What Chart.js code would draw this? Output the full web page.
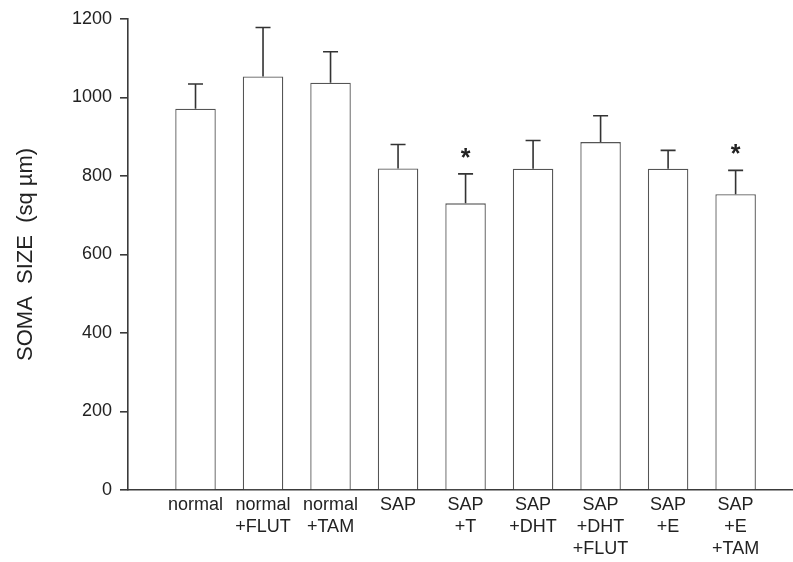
<!DOCTYPE html>
<html><head><meta charset="utf-8">
<script src="https://cdn.jsdelivr.net/npm/chart.js@4/dist/chart.umd.min.js"></script>
<style>html,body{margin:0;padding:0;background:#fff}</style>
</head><body>
<canvas id="c" width="793" height="562"></canvas>
<script>
const categories = [["normal"],["normal","+FLUT"],["normal","+TAM"],["SAP"],["SAP","+T"],["SAP","+DHT"],["SAP","+DHT","+FLUT"],["SAP","+E"],["SAP","+E","+TAM"]];
const means = [971, 1053, 1037, 819, 730, 818, 886, 818, 753];
const errorTops = [1034, 1178, 1116, 880, 805, 890, 953, 865, 814];
const significant = [false, false, false, false, true, false, false, false, true];
const yTicks = [0, 200, 400, 600, 800, 1000, 1200];
const yTitle = "SOMA  SIZE  (sq \u00b5m)";

const FONT = "'Liberation Sans', Arial, Helvetica, sans-serif";
const AXIS = '#3a3a3a';

const errorPlugin = {
  id: 'errorBars',
  afterDatasetsDraw(chart) {
    const ctx = chart.ctx, xs = chart.scales.x, ys = chart.scales.y;
    ctx.save();
    ctx.strokeStyle = '#333';
    ctx.lineWidth = 1.6;
    ctx.fillStyle = '#222';
    ctx.font = 'bold 25px ' + FONT;
    ctx.textAlign = 'center';
    ctx.textBaseline = 'alphabetic';
    means.forEach((m, i) => {
      const x = xs.getPixelForValue(i);
      const y0 = ys.getPixelForValue(m);
      const y1 = ys.getPixelForValue(errorTops[i]);
      ctx.beginPath();
      ctx.moveTo(x, y0); ctx.lineTo(x, y1);
      ctx.moveTo(x - 7.5, y1); ctx.lineTo(x + 7.5, y1);
      ctx.stroke();
      if (significant[i]) ctx.fillText('*', x, y1 - 8);
    });
    ctx.restore();
  }
};

new Chart(document.getElementById('c'), {
  type: 'bar',
  data: {
    datasets: [{
      data: means.map((v, i) => ({x: i, y: v})),
      backgroundColor: '#ffffff',
      borderColor: '#555555',
      borderWidth: 1.3,
      barPercentage: 0.6,
      categoryPercentage: 1.0
    }]
  },
  options: {
    responsive: false,
    animation: false,
    events: [],
    layout: {padding: {top: 17, right: 0, left: 0, bottom: 0}},
    plugins: {legend: {display: false}, tooltip: {enabled: false}},
    scales: {
      x: {
        type: 'linear',
        min: -1,
        max: 8.85,
        offset: false,
        afterBuildTicks: s => { s.ticks = categories.map((_, i) => ({value: i})); },
        afterFit: s => { s.height = 72; },
        grid: {display: false, drawTicks: false, tickLength: 0, offset: false},
        border: {display: true, color: AXIS, width: 1.6},
        ticks: {
          autoSkip: false,
          maxRotation: 0,
          padding: 4,
          color: '#222',
          font: {family: FONT, size: 18, lineHeight: 1.222},
          callback: v => categories[v]
        }
      },
      y: {
        min: 0,
        max: 1200,
        afterBuildTicks: s => { s.ticks = yTicks.map(v => ({value: v})); },
        afterFit: s => { s.width = 128; },
        grid: {drawOnChartArea: false, drawTicks: true, tickLength: 8, color: AXIS, lineWidth: 1.6},
        border: {display: true, color: AXIS, width: 1.6},
        ticks: {
          padding: 8,
          color: '#222',
          font: {family: FONT, size: 18},
          callback: v => String(v)
        },
        title: {
          display: true,
          text: yTitle,
          color: '#222',
          font: {family: FONT, size: 22},
          padding: {top: 13, bottom: 0}
        }
      }
    }
  },
  plugins: [errorPlugin]
});
</script>
</body></html>
